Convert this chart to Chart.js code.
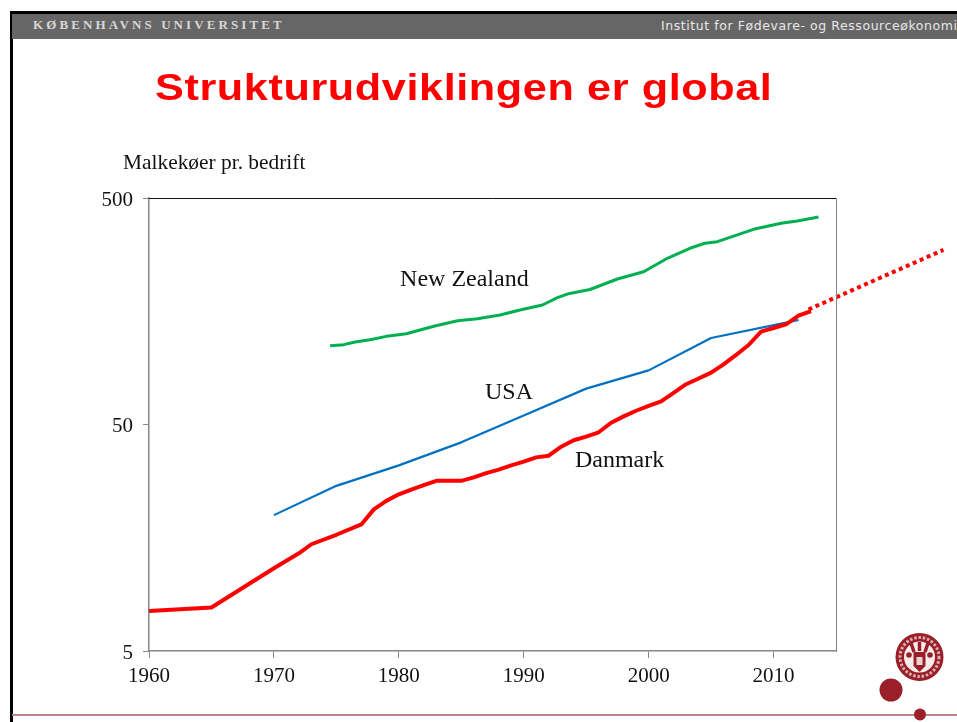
<!DOCTYPE html>
<html lang="da">
<head>
<meta charset="utf-8">
<title>Strukturudviklingen er global</title>
<script src="https://cdn.jsdelivr.net/npm/chart.js@4"></script>
<style>
html,body{margin:0;padding:0;background:#fff;width:957px;height:722px;overflow:hidden}
#page{position:relative;width:957px;height:722px;overflow:hidden}
#c{position:absolute;left:0;top:0}
.abs{position:absolute;white-space:nowrap}
#frameTop{left:10px;top:11px;width:947px;height:3px;background:#000}
#frameLeft{left:10px;top:11px;width:2.5px;height:711px;background:#000}
#bar{left:12px;top:14px;width:945px;height:25px;background:#666}
#ku{left:33px;top:17px;font:bold 13px "Liberation Serif",serif;letter-spacing:3.1px;color:#d8d8d8;line-height:16px}
#inst{left:661px;top:17px;font:12.5px "DejaVu Sans",sans-serif;letter-spacing:.57px;color:#e8e8e8;line-height:17px}
#title{left:155px;top:65px;font:bold 36px "Liberation Sans",sans-serif;color:#f00;line-height:46px;letter-spacing:0.5px;transform:scaleX(1.2);transform-origin:0 0}
#foot{left:12px;top:714px;width:945px;height:2px;background:#bb8489}
#deco{left:870px;top:625px}
</style>
</head>
<body>
<div id="page">
<canvas id="c" width="957" height="722"></canvas>
<div class="abs" id="frameTop"></div>
<div class="abs" id="frameLeft"></div>
<div class="abs" id="bar"></div>
<div class="abs" id="ku">KØBENHAVNS UNIVERSITET</div>
<div class="abs" id="inst">Institut for Fødevare- og Ressourceøkonomi</div>
<div class="abs" id="title">Strukturudviklingen er global</div>
<div class="abs" id="foot"></div>
<svg class="abs" id="deco" width="87" height="97" viewBox="0 0 87 97">
  <circle cx="49.5" cy="32" r="24" fill="#9b1f28"/>
  <circle cx="49.5" cy="32" r="15.5" fill="#f6ecec"/>
  <circle cx="49.5" cy="32" r="19.5" fill="none" stroke="#d9aeb1" stroke-width="3" stroke-dasharray="2.500 1.800"/>
  <path d="M43.500 27h12v14l-6 6-6-6z" fill="#9b1f28"/>
  <rect x="46.500" y="32" width="6" height="8" fill="#e9d3d4"/>
  <path d="M41 18l3 9M58 18l-3 9M49.500 17v9" stroke="#9b1f28" stroke-width="3.500"/>
  <circle cx="39" cy="30" r="2.800" fill="#9b1f28"/>
  <circle cx="60" cy="30" r="2.800" fill="#9b1f28"/>
  <circle cx="21" cy="65" r="11.500" fill="#9b1f28"/>
  <circle cx="50" cy="89.500" r="6" fill="#9b1f28"/>
</svg>
</div>
<script>
const xTickLabels = [1960, 1970, 1980, 1990, 2000, 2010];
const yTickLabels = [5, 50, 500];
const xMin = 1960, xMax = 2015, yMin = 5, yMax = 500;

const danmarkYears = [1960,1965,1970,1972,1973,1975,1977,1978,1979,1980,1981,1982,1983,1985,1986,1987,1988,1989,1990,1991,1992,1993,1994,1995,1996,1997,1998,1999,2000,2001,2002,2003,2004,2005,2006,2007,2008,2009,2010,2011,2012,2013];
const danmarkValues = [7.51,7.78,11.6,13.5,14.8,16.3,18.1,21.1,23.0,24.6,25.8,27.0,28.2,28.2,29.2,30.5,31.6,33.0,34.3,35.8,36.4,39.9,42.6,44.2,46.2,50.9,54.3,57.5,60.4,63.3,68.9,75.3,79.8,84.7,92.2,101.4,112.2,128.5,133.4,138.5,151.1,158.5];

const usaYears = [1970,1975,1980,1985,1990,1995,2000,2005,2011,2012];
const usaValues = [19.9,26.8,33.0,41.7,54.8,72.0,86.7,120.5,140.8,144.6];

const nzYears = [1974.5,1975.6,1976.5,1977.7,1979,1980.6,1981.7,1982.8,1984.7,1986.3,1988.1,1989.7,1991.5,1992.7,1993.6,1995.3,1997.5,1999.6,2001.5,2003.3,2004.5,2005.5,2008.4,2010.6,2011.9,2013.6];
const nzValues = [111.4,112.6,115.7,118.4,122.5,125.8,130.7,135.7,143.6,146.6,152.2,160.2,168.5,181.5,189.0,197.2,219.5,236.3,270.9,299.9,315.5,320.7,363.7,386.6,396,412];

const projectionYears = [2012.8,2023.6];
const projectionValues = [161,295];

const seriesLabels = ["New Zealand","USA","Danmark"];
const seriesLabelYears = [1980.1,1986.9,1994.1];
const seriesLabelValues = [218.7,68.9,34.5];
const yAxisCaption = "Malkekøer pr. bedrift";

const pts = (xs, ys) => xs.map((x, i) => ({x, y: ys[i]}));
const AXIS = "#868686";

const extras = {
  id: "extras",
  afterDraw(chart) {
    const {ctx, chartArea: a, scales} = chart;
    ctx.save();
    ctx.strokeStyle = "#111";
    ctx.lineWidth = 1;
    ctx.beginPath(); ctx.moveTo(a.left, a.top + .5); ctx.lineTo(a.right, a.top + .5); ctx.stroke();
    ctx.strokeStyle = AXIS;
    ctx.beginPath(); ctx.moveTo(a.right + .5, a.top); ctx.lineTo(a.right + .5, a.bottom + 1); ctx.stroke();
    ctx.fillStyle = "#111";
    ctx.textBaseline = "middle";
    ctx.textAlign = "left";
    ctx.font = '24px "Liberation Serif", serif';
    seriesLabels.forEach((t, i) => {
      ctx.fillText(t, scales.x.getPixelForValue(seriesLabelYears[i]), scales.y.getPixelForValue(seriesLabelValues[i]));
    });
    ctx.font = '21.400px "Liberation Serif", serif';
    ctx.fillText(yAxisCaption, 123, a.top - 35);
    ctx.restore();
  }
};

new Chart(document.getElementById("c"), {
  type: "line",
  data: {
    datasets: [
      {label: "New Zealand", data: pts(nzYears, nzValues), borderColor: "#00b050", borderWidth: 3, order: 3},
      {label: "USA", data: pts(usaYears, usaValues), borderColor: "#0070c0", borderWidth: 2.2, order: 2},
      {label: "Danmark", data: pts(danmarkYears, danmarkValues), borderColor: "#ff0000", borderWidth: 4, order: 1},
      {label: "Fremskrivning", data: pts(projectionYears, projectionValues), borderColor: "#ff0000", borderWidth: 4, borderDash: [4, 3.6], clip: false, order: 0}
    ]
  },
  options: {
    responsive: false,
    animation: false,
    parsing: true,
    normalized: true,
    elements: {point: {radius: 0}, line: {tension: 0, borderCapStyle: "butt", borderJoinStyle: "round"}},
    layout: {padding: {top: 198, right: 121, left: 0, bottom: 0}},
    plugins: {legend: {display: false}, title: {display: false}, tooltip: {enabled: false}},
    scales: {
      x: {
        type: "linear", min: xMin, max: xMax,
        afterBuildTicks: s => { s.ticks = xTickLabels.map(v => ({value: v})); },
        afterFit: s => { s.height = 71; },
        grid: {drawOnChartArea: false, drawTicks: true, tickLength: 7, color: AXIS, lineWidth: 1},
        border: {color: AXIS, width: 1.5},
        ticks: {color: "#111", maxRotation: 0, autoSkip: false, padding: 6, font: {family: "Liberation Serif", size: 21}, callback: v => String(v)}
      },
      y: {
        type: "logarithmic", min: yMin, max: yMax,
        afterBuildTicks: s => { s.ticks = yTickLabels.map(v => ({value: v})); },
        afterFit: s => { s.width = 149; },
        grid: {drawOnChartArea: false, drawTicks: true, tickLength: 6, color: AXIS, lineWidth: 1},
        border: {color: AXIS, width: 1.5},
        ticks: {color: "#111", autoSkip: false, padding: 10, labelOffset: 2, font: {family: "Liberation Serif", size: 21}, callback: v => String(v)}
      }
    }
  },
  plugins: [extras]
});
</script>
</body>
</html>
